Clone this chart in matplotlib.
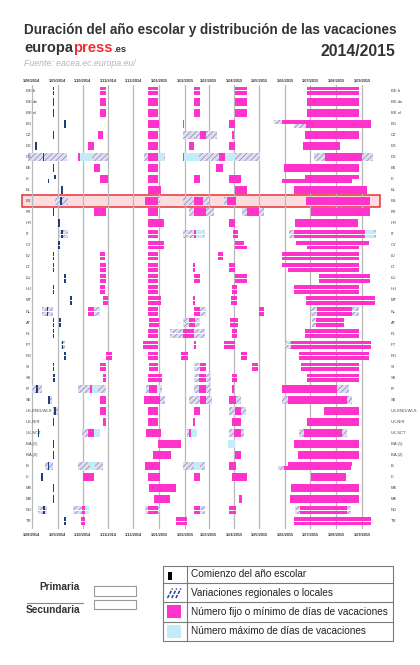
import datetime as dt
import matplotlib
matplotlib.use("Agg")
import matplotlib.pyplot as plt
from matplotlib.patches import Rectangle
from matplotlib.lines import Line2D

plt.rcParams['font.family'] = ['Liberation Sans', 'DejaVu Sans']
plt.rcParams['hatch.linewidth'] = 0.5

# ---------------- data ----------------
countries = ["BE fr", "BE de", "BE nl", "BG", "CZ", "DK", "DE", "EE", "IE", "EL",
             "ES", "FR", "HR", "IT", "CY", "LV", "LT", "LU", "HU", "MT",
             "NL", "AT", "PL", "PT", "RO", "SI", "SK", "FI", "SE", "UK-ENG/WLS",
             "UK-NIR", "UK-SCT", "BA (1)", "BA (2)", "IS", "LI", "ME", "MK", "NO", "TR"]

month_ticks = ["2014-08-01", "2014-09-01", "2014-10-01", "2014-11-01", "2014-12-01",
               "2015-01-01", "2015-02-01", "2015-03-01", "2015-04-01", "2015-05-01",
               "2015-06-01", "2015-07-01", "2015-08-01", "2015-09-01"]
month_labels = ["1/08/2014", "1/09/2014", "1/10/2014", "1/11/2014", "1/12/2014",
                "1/01/2015", "1/02/2015", "1/03/2015", "1/04/2015", "1/05/2015",
                "1/06/2015", "1/07/2015", "1/08/2015", "1/09/2015"]

# level: A = primaria y secundaria, P = primaria, S = secundaria
school_start = [
    ("BE fr", "2014-08-27", "A"), ("BE de", "2014-08-27", "A"), ("BE nl", "2014-08-27", "A"),
    ("BG", "2014-09-10", "A"), ("CZ", "2014-08-27", "A"), ("DK", "2014-08-06", "A"),
    ("DE", "2014-08-15", "A"), ("EE", "2014-08-27", "A"), ("IE", "2014-08-29", "P"),
    ("IE", "2014-08-21", "S"), ("EL", "2014-09-06", "A"), ("ES", "2014-09-05", "A"),
    ("FR", "2014-08-27", "A"), ("HR", "2014-09-03", "A"), ("IT", "2014-09-06", "A"),
    ("CY", "2014-09-03", "A"), ("LV", "2014-08-27", "A"), ("LT", "2014-08-27", "A"),
    ("LU", "2014-09-10", "A"), ("HU", "2014-08-27", "A"), ("MT", "2014-09-17", "A"),
    ("NL", "2014-08-20", "A"), ("AT", "2014-08-27", "A"), ("AT", "2014-09-04", "A"),
    ("PL", "2014-08-27", "A"), ("PT", "2014-09-07", "A"), ("RO", "2014-09-10", "A"),
    ("SI", "2014-08-27", "A"), ("SK", "2014-08-28", "A"), ("FI", "2014-08-07", "A"),
    ("SE", "2014-08-22", "A"), ("UK-ENG/WLS", "2014-08-29", "A"), ("UK-NIR", "2014-08-27", "A"),
    ("UK-SCT", "2014-08-09", "A"), ("BA (1)", "2014-08-27", "A"), ("BA (2)", "2014-08-27", "A"),
    ("IS", "2014-08-21", "A"), ("LI", "2014-08-13", "A"), ("ME", "2014-08-27", "A"),
    ("MK", "2014-08-27", "A"), ("NO", "2014-08-16", "A"), ("TR", "2014-09-10", "A"),
]

regional_var = [
    ("BG", "2015-05-18", "2015-05-28", "P"), ("BG", "2015-06-12", "2015-06-26", "S"),
    ("CZ", "2015-01-29", "2015-03-11", "A"),
    ("DE", "2014-07-27", "2014-09-12", "A"), ("DE", "2014-10-12", "2014-11-01", "A"),
    ("DE", "2014-12-14", "2015-01-08", "A"), ("DE", "2015-02-17", "2015-03-14", "A"),
    ("DE", "2015-04-02", "2015-05-02", "A"), ("DE", "2015-07-06", "2015-09-14", "A"),
    ("ES", "2014-08-29", "2014-09-14", "A"), ("ES", "2014-12-15", "2015-01-02", "A"),
    ("ES", "2015-01-29", "2015-03-01", "A"), ("ES", "2015-03-19", "2015-03-23", "A"),
    ("FR", "2015-02-05", "2015-03-07", "A"), ("FR", "2015-04-10", "2015-05-06", "A"),
    ("IT", "2014-09-03", "2014-09-13", "A"), ("IT", "2015-01-29", "2015-02-25", "A"),
    ("IT", "2015-06-05", "2015-09-18", "A"),
    ("NL", "2014-08-13", "2014-08-27", "A"), ("NL", "2014-10-15", "2014-10-22", "A"),
    ("NL", "2015-02-19", "2015-02-26", "A"), ("NL", "2015-07-02", "2015-07-09", "A"),
    ("NL", "2015-08-20", "2015-08-28", "A"),
    ("AT", "2015-01-29", "2015-02-19", "A"), ("AT", "2015-07-03", "2015-07-08", "A"),
    ("PL", "2015-01-14", "2015-02-25", "A"),
    ("PT", "2014-09-05", "2014-09-10", "A"), ("PT", "2015-06-01", "2015-06-08", "A"),
    ("SI", "2015-02-12", "2015-02-19", "A"),
    ("SK", "2015-02-11", "2015-03-04", "A"),
    ("FI", "2014-08-01", "2014-08-13", "A"), ("FI", "2014-09-26", "2014-10-29", "A"),
    ("FI", "2014-12-16", "2015-01-04", "A"), ("FI", "2015-02-11", "2015-03-04", "A"),
    ("FI", "2015-08-02", "2015-08-16", "A"),
    ("SE", "2014-08-20", "2014-08-25", "A"), ("SE", "2015-01-02", "2015-01-08", "A"),
    ("SE", "2015-02-05", "2015-03-05", "A"), ("SE", "2015-04-03", "2015-04-09", "A"),
    ("SE", "2015-05-28", "2015-06-04", "A"), ("SE", "2015-08-14", "2015-08-20", "A"),
    ("UK-ENG/WLS", "2014-08-27", "2014-09-01", "A"), ("UK-ENG/WLS", "2015-03-26", "2015-04-02", "A"),
    ("UK-ENG/WLS", "2015-04-09", "2015-04-15", "A"),
    ("UK-SCT", "2014-09-30", "2014-10-08", "A"), ("UK-SCT", "2015-02-03", "2015-02-15", "A"),
    ("UK-SCT", "2015-03-25", "2015-03-31", "A"), ("UK-SCT", "2015-04-09", "2015-04-13", "A"),
    ("UK-SCT", "2015-06-18", "2015-06-24", "A"), ("UK-SCT", "2015-08-08", "2015-08-14", "A"),
    ("IS", "2014-08-17", "2014-08-26", "A"), ("IS", "2014-09-26", "2014-10-26", "A"),
    ("IS", "2015-01-29", "2015-02-25", "A"), ("IS", "2015-05-23", "2015-05-31", "S"),
    ("NO", "2014-08-09", "2014-08-19", "A"), ("NO", "2014-09-20", "2014-09-30", "A"),
    ("NO", "2014-12-15", "2015-01-02", "A"), ("NO", "2015-02-19", "2015-02-25", "A"),
    ("NO", "2015-06-13", "2015-06-19", "A"), ("NO", "2015-08-14", "2015-08-19", "A"),
]

max_days = [
    ("DE", "2014-09-28", "2014-10-12", "A"), ("DE", "2014-12-31", "2015-01-07", "A"),
    ("DE", "2015-01-31", "2015-02-17", "A"), ("DE", "2015-03-21", "2015-04-02", "A"),
    ("IT", "2015-02-14", "2015-02-22", "A"), ("IT", "2015-09-05", "2015-09-15", "A"),
    ("FI", "2014-10-12", "2014-10-20", "A"), ("FI", "2014-12-29", "2015-01-02", "A"),
    ("UK-SCT", "2014-10-15", "2014-10-22", "A"), ("UK-SCT", "2015-02-08", "2015-02-15", "A"),
    ("BA (1)", "2015-03-24", "2015-04-02", "A"),
    ("IS", "2014-10-10", "2014-10-16", "A"), ("IS", "2015-02-11", "2015-02-19", "A"),
    ("NO", "2014-10-04", "2014-10-09", "A"),
]

fixed_days = [
    ("BE fr", "2014-10-22", "2014-10-29", "A"), ("BE fr", "2014-12-18", "2014-12-31", "A"),
    ("BE fr", "2015-02-11", "2015-02-19", "A"), ("BE fr", "2015-04-02", "2015-04-16", "A"),
    ("BE fr", "2015-06-27", "2015-08-28", "A"),
    ("BE de", "2014-10-22", "2014-10-29", "A"), ("BE de", "2014-12-18", "2014-12-31", "A"),
    ("BE de", "2015-02-11", "2015-02-19", "A"), ("BE de", "2015-04-02", "2015-04-16", "A"),
    ("BE de", "2015-06-27", "2015-08-28", "A"),
    ("BE nl", "2014-10-22", "2014-10-29", "A"), ("BE nl", "2014-12-18", "2014-12-31", "A"),
    ("BE nl", "2015-02-11", "2015-02-19", "A"), ("BE nl", "2015-04-02", "2015-04-16", "A"),
    ("BE nl", "2015-06-27", "2015-08-28", "A"),
    ("BG", "2014-12-19", "2015-01-01", "A"), ("BG", "2015-01-29", "2015-01-31", "A"),
    ("BG", "2015-03-26", "2015-04-02", "A"), ("BG", "2015-05-28", "2015-09-12", "P"),
    ("BG", "2015-06-26", "2015-09-12", "S"),
    ("CZ", "2014-10-20", "2014-10-25", "A"), ("CZ", "2014-12-18", "2014-12-31", "A"),
    ("CZ", "2015-02-19", "2015-02-26", "A"), ("CZ", "2015-03-29", "2015-04-01", "A"),
    ("CZ", "2015-06-25", "2015-08-28", "A"),
    ("DK", "2014-10-08", "2014-10-15", "A"), ("DK", "2014-12-18", "2014-12-31", "A"),
    ("DK", "2015-02-05", "2015-02-11", "A"), ("DK", "2015-03-26", "2015-04-02", "A"),
    ("DK", "2015-06-22", "2015-08-06", "A"),
    ("DE", "2014-09-25", "2014-09-28", "A"), ("DE", "2014-12-18", "2014-12-31", "A"),
    ("DE", "2015-01-29", "2015-01-31", "A"), ("DE", "2015-03-14", "2015-03-21", "A"),
    ("DE", "2015-07-19", "2015-09-01", "A"),
    ("EE", "2014-10-15", "2014-10-22", "A"), ("EE", "2014-12-18", "2014-12-31", "A"),
    ("EE", "2015-03-10", "2015-03-18", "A"), ("EE", "2015-05-31", "2015-08-28", "A"),
    ("IE", "2014-10-22", "2014-11-01", "A"), ("IE", "2014-12-18", "2014-12-31", "A"),
    ("IE", "2015-02-11", "2015-02-19", "A"), ("IE", "2015-03-26", "2015-04-09", "A"),
    ("IE", "2015-06-25", "2015-08-28", "P"), ("IE", "2015-05-28", "2015-08-20", "S"),
    ("EL", "2014-12-19", "2015-01-03", "A"), ("EL", "2015-04-02", "2015-04-16", "A"),
    ("EL", "2015-06-12", "2015-09-07", "A"),
    ("ES", "2014-12-15", "2014-12-31", "A"), ("ES", "2015-02-11", "2015-02-22", "A"),
    ("ES", "2015-03-23", "2015-04-03", "A"), ("ES", "2015-06-26", "2015-09-11", "A"),
    ("FR", "2014-10-15", "2014-10-29", "A"), ("FR", "2014-12-18", "2014-12-31", "A"),
    ("FR", "2015-02-11", "2015-02-26", "A"), ("FR", "2015-04-16", "2015-04-30", "A"),
    ("FR", "2015-07-02", "2015-09-11", "A"),
    ("HR", "2014-12-19", "2015-01-07", "A"), ("HR", "2015-03-26", "2015-04-02", "A"),
    ("HR", "2015-06-13", "2015-08-27", "A"),
    ("IT", "2014-12-18", "2014-12-31", "A"), ("IT", "2015-02-11", "2015-02-14", "A"),
    ("IT", "2015-03-30", "2015-04-05", "A"), ("IT", "2015-06-12", "2015-09-05", "A"),
    ("CY", "2014-12-19", "2015-01-07", "A"), ("CY", "2015-04-02", "2015-04-12", "P"),
    ("CY", "2015-04-02", "2015-04-16", "S"), ("CY", "2015-06-14", "2015-09-09", "P"),
    ("CY", "2015-06-27", "2015-08-28", "S"),
    ("LV", "2014-10-22", "2014-10-28", "A"), ("LV", "2014-12-18", "2014-12-31", "A"),
    ("LV", "2015-03-12", "2015-03-18", "A"), ("LV", "2015-05-28", "2015-08-28", "A"),
    ("LT", "2014-10-22", "2014-10-29", "A"), ("LT", "2014-12-18", "2014-12-31", "A"),
    ("LT", "2015-02-10", "2015-02-13", "A"), ("LT", "2015-03-26", "2015-04-02", "A"),
    ("LT", "2015-05-28", "2015-08-28", "P"), ("LT", "2015-06-04", "2015-08-28", "S"),
    ("LU", "2014-10-22", "2014-10-29", "A"), ("LU", "2014-12-18", "2014-12-31", "A"),
    ("LU", "2015-02-11", "2015-02-19", "A"), ("LU", "2015-04-02", "2015-04-16", "A"),
    ("LU", "2015-07-12", "2015-09-11", "A"),
    ("HU", "2014-10-22", "2014-10-28", "A"), ("HU", "2014-12-18", "2014-12-31", "A"),
    ("HU", "2015-03-29", "2015-04-04", "A"), ("HU", "2015-06-12", "2015-08-28", "A"),
    ("MT", "2014-10-26", "2014-10-31", "A"), ("MT", "2014-12-18", "2015-01-03", "A"),
    ("MT", "2015-02-10", "2015-02-13", "A"), ("MT", "2015-03-28", "2015-04-04", "A"),
    ("MT", "2015-06-26", "2015-09-17", "A"),
    ("NL", "2014-10-08", "2014-10-15", "A"), ("NL", "2014-12-18", "2014-12-31", "A"),
    ("NL", "2015-02-11", "2015-02-19", "A"), ("NL", "2015-04-30", "2015-05-07", "A"),
    ("NL", "2015-07-09", "2015-08-20", "A"),
    ("AT", "2014-12-20", "2015-01-01", "A"), ("AT", "2015-02-06", "2015-02-13", "A"),
    ("AT", "2015-03-27", "2015-04-05", "A"), ("AT", "2015-07-08", "2015-08-10", "A"),
    ("PL", "2014-12-18", "2014-12-31", "A"), ("PL", "2015-01-29", "2015-02-11", "A"),
    ("PL", "2015-03-29", "2015-04-04", "A"), ("PL", "2015-06-25", "2015-08-28", "A"),
    ("PT", "2014-12-12", "2014-12-31", "A"), ("PT", "2015-02-11", "2015-02-14", "A"),
    ("PT", "2015-03-19", "2015-04-02", "A"), ("PT", "2015-06-08", "2015-09-12", "A"),
    ("RO", "2014-10-29", "2014-11-05", "A"), ("RO", "2014-12-18", "2014-12-31", "A"),
    ("RO", "2015-01-27", "2015-02-04", "A"), ("RO", "2015-04-09", "2015-04-16", "A"),
    ("RO", "2015-06-18", "2015-09-10", "A"),
    ("SI", "2014-10-22", "2014-10-29", "A"), ("SI", "2014-12-20", "2014-12-31", "A"),
    ("SI", "2015-02-19", "2015-02-26", "A"), ("SI", "2015-04-22", "2015-04-29", "A"),
    ("SI", "2015-06-20", "2015-08-28", "A"),
    ("SK", "2014-10-25", "2014-10-29", "A"), ("SK", "2014-12-18", "2015-01-04", "A"),
    ("SK", "2015-02-17", "2015-02-26", "A"), ("SK", "2015-03-29", "2015-04-04", "A"),
    ("SK", "2015-06-27", "2015-08-28", "A"),
    ("FI", "2014-10-10", "2014-10-12", "A"), ("FI", "2014-12-20", "2014-12-29", "A"),
    ("FI", "2015-02-17", "2015-02-26", "A"), ("FI", "2015-03-29", "2015-04-01", "A"),
    ("FI", "2015-05-28", "2015-08-02", "A"),
    ("SE", "2014-10-22", "2014-10-29", "A"), ("SE", "2014-12-14", "2015-01-02", "A"),
    ("SE", "2015-02-19", "2015-02-26", "A"), ("SE", "2015-03-26", "2015-04-03", "A"),
    ("SE", "2015-06-04", "2015-08-14", "A"),
    ("UK-ENG/WLS", "2014-10-22", "2014-10-29", "A"), ("UK-ENG/WLS", "2014-12-18", "2014-12-31", "A"),
    ("UK-ENG/WLS", "2015-02-11", "2015-02-19", "A"), ("UK-ENG/WLS", "2015-04-02", "2015-04-09", "A"),
    ("UK-ENG/WLS", "2015-07-17", "2015-08-28", "A"),
    ("UK-NIR", "2014-10-25", "2014-10-29", "A"), ("UK-NIR", "2014-12-18", "2014-12-31", "A"),
    ("UK-NIR", "2015-02-10", "2015-02-13", "A"), ("UK-NIR", "2015-03-29", "2015-04-09", "A"),
    ("UK-NIR", "2015-06-27", "2015-08-28", "A"),
    ("UK-SCT", "2014-10-08", "2014-10-15", "A"), ("UK-SCT", "2014-12-16", "2015-01-03", "A"),
    ("UK-SCT", "2015-02-06", "2015-02-08", "A"), ("UK-SCT", "2015-03-31", "2015-04-09", "A"),
    ("UK-SCT", "2015-06-24", "2015-08-08", "A"),
    ("BA (1)", "2014-12-31", "2015-01-27", "A"), ("BA (1)", "2015-06-11", "2015-08-28", "A"),
    ("BA (2)", "2014-12-24", "2015-01-15", "A"), ("BA (2)", "2015-04-02", "2015-04-09", "A"),
    ("BA (2)", "2015-06-16", "2015-08-28", "A"),
    ("IS", "2014-12-15", "2015-01-02", "A"), ("IS", "2015-03-26", "2015-04-03", "A"),
    ("IS", "2015-06-04", "2015-08-20", "P"), ("IS", "2015-05-31", "2015-08-19", "S"),
    ("LI", "2014-10-01", "2014-10-15", "A"), ("LI", "2014-12-19", "2015-01-02", "A"),
    ("LI", "2015-02-11", "2015-02-19", "A"), ("LI", "2015-03-29", "2015-04-16", "A"),
    ("LI", "2015-07-02", "2015-08-13", "A"),
    ("ME", "2014-12-20", "2015-01-21", "A"), ("ME", "2015-06-08", "2015-08-28", "A"),
    ("MK", "2014-12-26", "2015-01-14", "A"), ("MK", "2015-04-06", "2015-04-10", "A"),
    ("MK", "2015-06-07", "2015-08-28", "A"),
    ("NO", "2014-09-30", "2014-10-04", "A"), ("NO", "2014-12-19", "2014-12-31", "A"),
    ("NO", "2015-02-11", "2015-02-19", "A"), ("NO", "2015-03-26", "2015-04-03", "A"),
    ("NO", "2015-06-19", "2015-08-14", "A"),
    ("TR", "2014-09-29", "2014-10-04", "A"), ("TR", "2015-01-21", "2015-02-03", "A"),
    ("TR", "2015-06-11", "2015-09-12", "A"),
]

# ---------------- styling ----------------
W, H = 420, 665
MAGENTA = "#ff33cc"
LIGHTBLUE = "#c4ebf8"
NAVY = "#1f3f7a"
HATCH_FACE = "#dedeee"
HATCH_EDGE = "#8484bf"
ORIGIN = dt.date(2014, 8, 1)


def day(s):
    return (dt.date.fromisoformat(s) - ORIGIN).days


row_of = {c: i for i, c in enumerate(countries)}

fig = plt.figure(figsize=(W / 100, H / 100), dpi=100)
fig.patch.set_facecolor("white")


def fx(x):
    return x / W


def fy(y):
    return 1 - y / H


ax = fig.add_axes([fx(22), fy(529), (383 - 22) / W, (529 - 85) / H])
ax.set_xlim(-11.63, 421.2)
ax.set_ylim(39.7, -0.52)
for s in ax.spines.values():
    s.set_visible(False)
ax.set_xticks([])
ax.set_yticks([])

SUB_H = 0.35
GAP = 0.025


def draw_band(country, s, e, level, **kw):
    r = row_of[country]
    ys = []
    if level in "AP":
        ys.append(r - GAP - SUB_H / 2)
    if level in "AS":
        ys.append(r + GAP + SUB_H / 2)
    for y in ys:
        ax.barh(y, e - s, left=s, height=SUB_H, **kw)


# highlighted Spain row
ax.add_patch(Rectangle((0, row_of["ES"] - 0.53), 0.992, 1.06, transform=ax.get_yaxis_transform(),
                       facecolor="#fcdcdf", edgecolor="#e53238", lw=1.1, zorder=0.5, clip_on=False))

# month grid
for t in month_ticks:
    ax.axvline(day(t), color="#b9b9b9", lw=0.9, zorder=1)

for c, s, e, lv in regional_var:
    draw_band(c, day(s), day(e), lv, color=HATCH_FACE, edgecolor=HATCH_EDGE,
              hatch="//////", linewidth=0, zorder=2)
for c, s, e, lv in max_days:
    draw_band(c, day(s), day(e), lv, color=LIGHTBLUE, linewidth=0, zorder=3)
for c, s, e, lv in fixed_days:
    draw_band(c, day(s), day(e), lv, color=MAGENTA, linewidth=0, zorder=4)
for c, d, lv in school_start:
    draw_band(c, day(d) - 1.0, day(d) + 1.0, lv, color=NAVY, linewidth=0, zorder=5)

# month labels top and bottom
for t, lab in zip(month_ticks, month_labels):
    for yy in (1.008, -0.0135):
        ax.text(day(t), yy, lab, transform=ax.get_xaxis_transform(), ha="center", va="center",
                fontsize=2.8, color="#333333", fontweight="bold")

# country labels left and right
for c, i in row_of.items():
    ax.text((26 - 22) / 361, i, c, transform=ax.get_yaxis_transform(), ha="left", va="center",
            fontsize=3.0, color="#444444")
    ax.text((391 - 22) / 361, i, c, transform=ax.get_yaxis_transform(), ha="left", va="center",
            fontsize=3.0, color="#444444")

# ---------------- header ----------------
fig.text(fx(24), fy(30), "Duración del año escolar y distribución de las vacaciones",
         fontsize=9.75, fontweight="bold", color="#333333", ha="left", va="center")
fig.text(fx(395), fy(51), "2014/2015", fontsize=11.3, fontweight="bold", color="#333333",
         ha="right", va="center")
fig.text(fx(24), fy(63), "Fuente: eacea.ec.europa.eu/", fontsize=6.3, style="italic",
         color="#b5b5b5", ha="left", va="center")

renderer = fig.canvas.get_renderer()
t1 = fig.text(fx(24), fy(52), "europa", fontsize=10.5, fontweight="bold", color="#333333",
              ha="left", va="baseline")
bb = t1.get_window_extent(renderer)
t2 = fig.text(bb.x1 / W, fy(52), "press", fontsize=10.5, fontweight="bold", color="#ee3035",
              ha="left", va="baseline")
bb2 = t2.get_window_extent(renderer)
fig.text(bb2.x1 / W + 0.002, fy(52), ".es", fontsize=6.8, fontweight="bold", color="#333333",
         ha="left", va="baseline")

# ---------------- legend ----------------
def px_rect(x0, y0, x1, y1, **kw):
    fig.add_artist(Rectangle((fx(x0), fy(y1)), (x1 - x0) / W, (y1 - y0) / H,
                             transform=fig.transFigure, **kw))


def px_line(x0, y0, x1, y1, **kw):
    fig.add_artist(Line2D([fx(x0), fx(x1)], [fy(y0), fy(y1)], transform=fig.transFigure, **kw))


fig.text(fx(80), fy(587), "Primaria", fontsize=7.3, fontweight="bold", color="#333333",
         ha="right", va="center")
fig.text(fx(80), fy(610), "Secundaria", fontsize=7.3, fontweight="bold", color="#333333",
         ha="right", va="center")
px_line(27, 603.3, 83, 603.3, color="#888888", lw=0.8)
px_rect(94, 585.7, 136, 596, facecolor="white", edgecolor="#9a9a9a", lw=0.8)
px_rect(94, 599.7, 136, 609.3, facecolor="white", edgecolor="#9a9a9a", lw=0.8)

px_rect(162.7, 565.7, 392.7, 641, facecolor="none", edgecolor="#7a7a7a", lw=0.8)
for yy in (582.7, 602.3, 621.7):
    px_line(162.7, yy, 392.7, yy, color="#7a7a7a", lw=0.8)
px_line(186.7, 565.7, 186.7, 641, color="#7a7a7a", lw=0.8)

px_rect(168.3, 571.5, 171.7, 580, facecolor="black", lw=0)
for off in (0, 4.2, 8.4):
    px_line(167.5 + off, 598, 172.5 + off, 588.5, color="#2a3f9a", lw=1.1,
            linestyle=(0, (2.2, 0.9)))
px_rect(166.7, 605, 180.7, 618.3, facecolor=MAGENTA, lw=0)
px_rect(166.7, 624.5, 180.7, 637.5, facecolor=LIGHTBLUE, lw=0)

leg_texts = ["Comienzo del año escolar", "Variaciones regionales o locales",
             "Número fijo o mínimo de días de vacaciones", "Número máximo de días de vacaciones"]
for yy, txt in zip((574.2, 592.5, 612.0, 631.3), leg_texts):
    fig.text(fx(190.7), fy(yy), txt, fontsize=7.2, color="#222222", ha="left", va="center")

fig.savefig("out.png", dpi=100, facecolor="white")
